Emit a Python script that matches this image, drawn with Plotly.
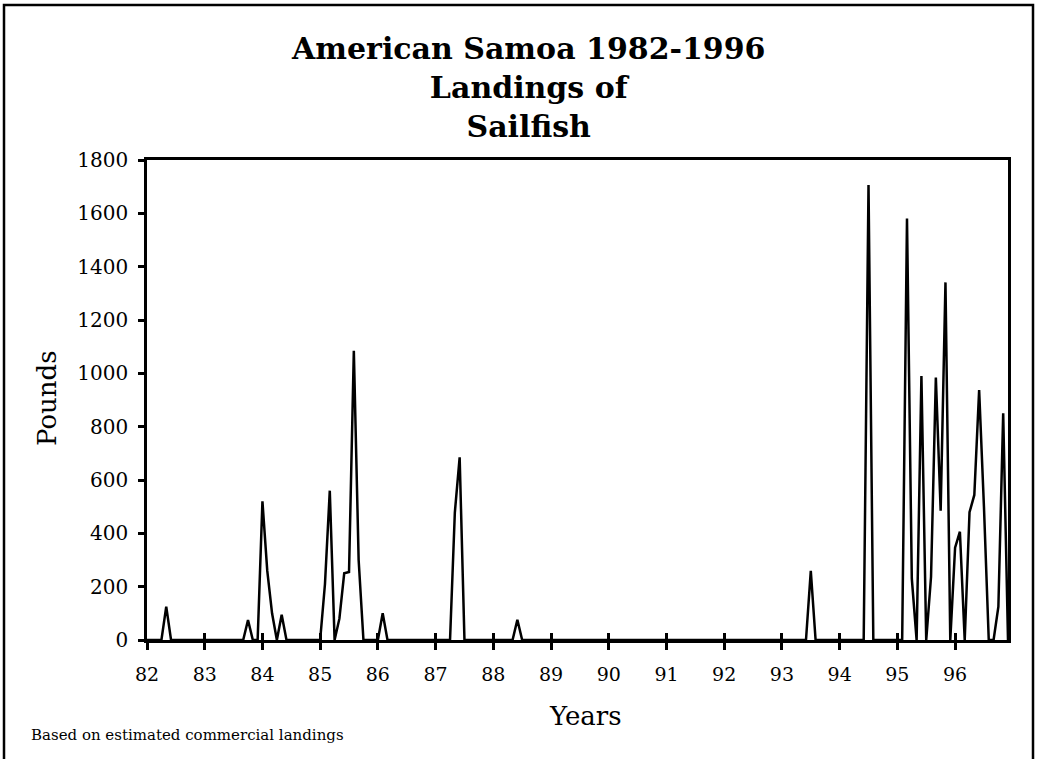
import plotly.graph_objects as go

# Monthly landings (pounds), Jan 1982 .. Dec 1996 (last plotted month Dec 1996 -> index 179)
years_start = 82
month_values = [
    # 1982
    0, 0, 0, 0, 125, 0, 0, 0, 0, 0, 0, 0,
    # 1983
    0, 0, 0, 0, 0, 0, 0, 0, 0, 75, 0, 0,
    # 1984
    520, 260, 100, 0, 95, 0, 0, 0, 0, 0, 0, 0,
    # 1985
    0, 210, 560, 0, 80, 250, 255, 1085, 300, 0, 0, 0,
    # 1986
    0, 100, 0, 0, 0, 0, 0, 0, 0, 0, 0, 0,
    # 1987
    0, 0, 0, 0, 478, 685, 0, 0, 0, 0, 0, 0,
    # 1988
    0, 0, 0, 0, 0, 76, 0, 0, 0, 0, 0, 0,
    # 1989
    0, 0, 0, 0, 0, 0, 0, 0, 0, 0, 0, 0,
    # 1990
    0, 0, 0, 0, 0, 0, 0, 0, 0, 0, 0, 0,
    # 1991
    0, 0, 0, 0, 0, 0, 0, 0, 0, 0, 0, 0,
    # 1992
    0, 0, 0, 0, 0, 0, 0, 0, 0, 0, 0, 0,
    # 1993
    0, 0, 0, 0, 0, 0, 259, 0, 0, 0, 0, 0,
    # 1994
    0, 0, 0, 0, 0, 0, 1706, 0, 0, 0, 0, 0,
    # 1995
    0, 0, 1581, 231, 0, 990, 0, 237, 984, 485, 1341, 0,
    # 1996
    346, 406, 0, 479, 544, 937, 500, 0, 0, 125, 850, 0,
]
x_values = [years_start + i / 12 for i in range(len(month_values))]

tick_values = list(range(82, 97))
tick_labels = [str(v) for v in tick_values]
y_tick_values = list(range(0, 1801, 200))

title_lines = ["American Samoa 1982-1996", "Landings of", "Sailfish"]
x_title = "Years"
y_title = "Pounds"
note_text = "Based on estimated commercial landings"

FONT = "DejaVu Serif"
W, H = 1037, 759
ML, MR, MT, MB = 147, 29, 160, 119
PW, PH = W - ML - MR, H - MT - MB


def px(xp):
    return (xp - ML) / PW


def py(yp):
    return (MT + PH - yp) / PH


xr = [x_values[0], x_values[-1]]

fig = go.Figure()
fig.add_trace(go.Scatter(
    x=x_values, y=month_values, mode="lines",
    line=dict(color="black", width=2.5), showlegend=False, hoverinfo="x+y",
))
# empty trace to activate overlay axis for crossing tick marks
fig.add_trace(go.Scatter(x=[], y=[], xaxis="x2", yaxis="y", showlegend=False))

fig.update_layout(
    width=W, height=H, autosize=False,
    margin=dict(l=ML, r=MR, t=MT, b=MB, pad=0),
    paper_bgcolor="white", plot_bgcolor="white",
    font=dict(family=FONT, color="black", size=19),
    xaxis=dict(
        range=xr, tickvals=tick_values, ticktext=tick_labels,
        showgrid=False, zeroline=False,
        showline=True, linecolor="black", linewidth=2.5, mirror=True,
        ticks="outside", ticklen=7, tickwidth=2.5, tickcolor="black",
        tickfont=dict(family=FONT, size=19), ticklabelstandoff=8,
    ),
    xaxis2=dict(
        overlaying="x", side="bottom", range=xr, tickvals=tick_values,
        showticklabels=False, showgrid=False, zeroline=False, showline=False,
        ticks="inside", ticklen=7, tickwidth=2.5, tickcolor="black",
    ),
    yaxis=dict(
        range=[0, 1800], tickvals=y_tick_values,
        showgrid=False, zeroline=False,
        showline=True, linecolor="black", linewidth=2.5, mirror=True,
        ticks="outside", ticklen=6, tickwidth=2.5, tickcolor="black",
        tickfont=dict(family=FONT, size=20), ticklabelstandoff=6,
    ),
    annotations=[
        dict(
            text="<b>" + "<br>".join(title_lines) + "</b>",
            xref="paper", yref="paper", x=px(528), y=py(87),
            xanchor="center", yanchor="middle", showarrow=False,
            font=dict(family=FONT, size=30, color="black"),
        ),
        dict(
            text=x_title, xref="paper", yref="paper", x=px(585), y=py(716),
            xanchor="center", yanchor="middle", showarrow=False,
            font=dict(family=FONT, size=26, color="black"),
        ),
        dict(
            text=y_title, xref="paper", yref="paper", x=px(47), y=py(398),
            xanchor="center", yanchor="middle", showarrow=False, textangle=-90,
            font=dict(family=FONT, size=26, color="black"),
        ),
        dict(
            text=note_text, xref="paper", yref="paper", x=px(29), y=py(735),
            xanchor="left", yanchor="middle", showarrow=False,
            font=dict(family=FONT, size=15, color="black"),
        ),
    ],
    shapes=[dict(
        type="rect", xref="paper", yref="paper",
        x0=px(4), x1=px(1033), y0=py(770), y1=py(5),
        line=dict(color="black", width=2.5), fillcolor="rgba(0,0,0,0)", layer="below",
    )],
)

fig.write_html(
    "out.html",
    config={"displayModeBar": False},
    post_script="document.body.style.margin='0';document.body.style.overflow='hidden';",
)
